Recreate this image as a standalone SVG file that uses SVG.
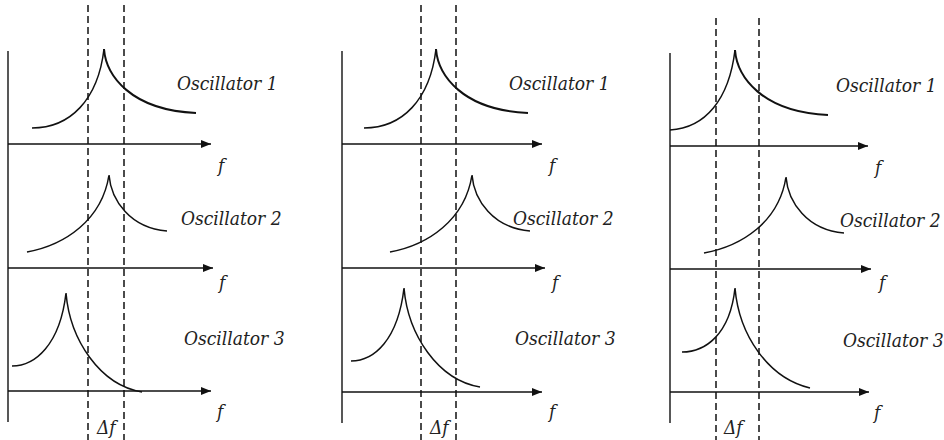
<svg xmlns="http://www.w3.org/2000/svg" width="944" height="440" viewBox="0 0 944 440">
<style>
.ax{stroke:#111;stroke-width:1.4;fill:none}
.cv{stroke:#111;stroke-width:1.5;fill:none}
.cvb{stroke:#111;stroke-width:2;fill:none}
.ds{stroke:#111;stroke-width:1.5;stroke-dasharray:7 4;fill:none}
text{font-family:'DejaVu Serif Condensed','DejaVu Serif',serif;font-stretch:condensed;font-style:italic;font-size:19px;fill:#222}
</style>
<defs>
<marker id="ar" viewBox="0 0 10 8" refX="10" refY="4" markerWidth="10" markerHeight="8" markerUnits="userSpaceOnUse" orient="auto">
<path d="M0,0 L10,4 L0,8 Z" fill="#111"/>
</marker>
</defs>
<rect width="944" height="440" fill="#fff"/>
<g id="connectors">
<line class="ax" x1="8" y1="51" x2="8" y2="422"/>
<line class="ax" x1="8" y1="144" x2="211" y2="144" marker-end="url(#ar)"/>
<line class="ax" x1="8" y1="268" x2="213" y2="268" marker-end="url(#ar)"/>
<line class="ax" x1="8" y1="391" x2="211" y2="391" marker-end="url(#ar)"/>
<line class="ds" x1="88" y1="5" x2="88" y2="440"/>
<line class="ds" x1="124" y1="5" x2="124" y2="440"/>
<line class="ax" x1="342" y1="51" x2="342" y2="423"/>
<line class="ax" x1="342" y1="144" x2="542" y2="144" marker-end="url(#ar)"/>
<line class="ax" x1="342" y1="268" x2="545" y2="268" marker-end="url(#ar)"/>
<line class="ax" x1="342" y1="392" x2="542" y2="392" marker-end="url(#ar)"/>
<line class="ds" x1="421" y1="5" x2="421" y2="440"/>
<line class="ds" x1="456" y1="5" x2="456" y2="440"/>
<line class="ax" x1="670" y1="53" x2="670" y2="423"/>
<line class="ax" x1="670" y1="146" x2="868" y2="146" marker-end="url(#ar)"/>
<line class="ax" x1="670" y1="269" x2="871" y2="269" marker-end="url(#ar)"/>
<line class="ax" x1="670" y1="392" x2="869" y2="392" marker-end="url(#ar)"/>
<line class="ds" x1="716" y1="18" x2="716" y2="440"/>
<line class="ds" x1="759" y1="18" x2="759" y2="440"/>
</g>
<g id="p1-osc1">
<path class="cv" d="M32,128 C70,128 98,100 104,49"/>
<path class="cvb" d="M104,49 C106,75 130,110 196,113"/>
<text x="177" y="90">Oscillator 1</text>
<text x="218" y="172">f</text>
</g>
<g id="p1-osc2">
<path class="cv" d="M27,252 C65,245 102,220 109,175 C111,200 130,228 167,231"/>
<text x="181" y="225">Oscillator 2</text>
<text x="219" y="289">f</text>
</g>
<g id="p1-osc3">
<path class="cv" d="M12,366 C35,366 60,345 66,293 C70,340 100,385 142,392"/>
<text x="184" y="345">Oscillator 3</text>
<text x="217" y="418">f</text>
<text x="97" y="434">Δf</text>
</g>
<g id="p2-osc1">
<path class="cv" d="M364,128 C402,128 430,100 436,49"/>
<path class="cvb" d="M436,49 C438,75 462,110 528,113"/>
<text x="509" y="90">Oscillator 1</text>
<text x="549" y="172">f</text>
</g>
<g id="p2-osc2">
<path class="cv" d="M390,252 C428,245 465,220 472,175 C474,200 493,228 530,231"/>
<text x="513" y="225">Oscillator 2</text>
<text x="552" y="289">f</text>
</g>
<g id="p2-osc3">
<path class="cv" d="M351,361 C374,361 398,340 404,288 C408,335 438,380 480,387"/>
<text x="515" y="345">Oscillator 3</text>
<text x="549" y="418">f</text>
<text x="430" y="434">Δf</text>
</g>
<g id="p3-osc1">
<path class="cv" d="M670,130 C705,128 729,100 735,50"/>
<path class="cvb" d="M735,50 C737,76 761,112 828,115"/>
<text x="836" y="92">Oscillator 1</text>
<text x="875" y="174">f</text>
</g>
<g id="p3-osc2">
<path class="cv" d="M704,253 C742,246 779,222 786,177 C788,202 807,230 844,233"/>
<text x="840" y="227">Oscillator 2</text>
<text x="879" y="289">f</text>
</g>
<g id="p3-osc3">
<path class="cv" d="M682,352 C705,352 730,335 735,288 C739,335 768,378 810,388"/>
<text x="843" y="347">Oscillator 3</text>
<text x="874" y="419">f</text>
<text x="724" y="434">Δf</text>
</g>
</svg>
